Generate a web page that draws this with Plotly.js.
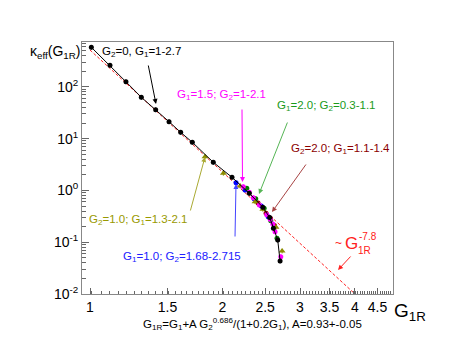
<!DOCTYPE html>
<html><head><meta charset="utf-8">
<script src="https://cdn.plot.ly/plotly-3.0.1.min.js"></script>
<style>html,body{margin:0;padding:0;background:#fff;}#chart{width:457px;height:353px;}</style>
</head><body><div id="chart"></div>
<script>
// ---- data ----
const blackG = [1.007,1.110,1.207,1.308,1.410,1.512,1.607,1.708,1.906,2.102,2.301,2.470,2.560,2.610,2.670,2.703];
const blackK = [579,260,125,62.7,36.1,21.2,13.2,8.48,3.49,1.79,0.879,0.472,0.300,0.185,0.110,0.0434];
const magentaG = [2.230,2.301,2.350,2.425,2.521,2.566,2.602,2.633,2.713];
const magentaK = [1.18,0.919,0.723,0.523,0.340,0.277,0.225,0.160,0.0525];
const greenG = [2.271,2.380,2.487,2.575,2.660];
const greenK = [1.10,0.690,0.451,0.260,0.119];
const darkredG = [2.409,2.512,2.570,2.625];
const darkredK = [0.571,0.361,0.290,0.210];
const oliveG = [1.825,2.009,2.193,2.371,2.470,2.647,2.732];
const oliveK = [4.47,2.14,1.22,0.605,0.432,0.194,0.0676];
const blueG = [2.147,2.250,2.360,2.450,2.540];
const blueK = [1.41,1.02,0.69,0.50,0.31];
const fitG = [1.0, 4.0];
const fitK = [513, 0.01];
const xTicks = [1,1.5,2,2.5,3,3.5,4,4.5];
const xTickText = ['1','1.5','2','2.5','3','3.5','4','4.5'];
const yTicks = [0.01,0.1,1,10,100];
const yTickText = ['10<sup>-2</sup>','10<sup>-1</sup>','10<sup>0</sup>','10<sup>1</sup>','10<sup>2</sup>'];

// ---- styling helpers ----
const FONT = 'Liberation Sans, Arial, Helvetica, sans-serif';
const L = 82, R = 393, T = 42, B = 294;
function px(x){ return (x - L) / (R - L); }
function py(y){ return (B - y) / (B - T); }

const xMinor = [];
for (let i = 96; i <= 485; i += 5) { const v = i/100; if (Math.abs(v*2 - Math.round(v*2)) > 1e-6) xMinor.push(v); }
const yMinor = [];
for (let d = -2; d <= 2; d++) for (let m = 2; m <= 9; m++) { const v = m*Math.pow(10,d); if (v < 740) yMinor.push(v); }

function pts(G, K, color, symbol, size, line){
  return {x:G, y:K, type:'scatter', mode: line ? 'lines+markers' : 'markers',
    marker:{color:color, symbol:symbol, size:size, line:{width:0}},
    line: line ? {color:color, width:1} : undefined,
    error_y:{type:'percent', value:10, color:color, thickness:1, width:0},
    showlegend:false, hoverinfo:'skip', cliponaxis:true};
}

const traces = [
  {x:fitG, y:fitK, type:'scatter', mode:'lines', line:{color:'#ff2020', width:1, dash:'3px,2px'}, showlegend:false},
  pts(blueG, blueK, '#0000ff', 'circle', 5),
  pts(darkredG, darkredK, '#990000', 'circle', 5),
  pts(greenG, greenK, '#007a00', 'circle', 5),
  pts(oliveG, oliveK, '#8c8c00', 'triangle-up', 6),
  pts(magentaG, magentaK, '#ff00ff', 'circle', 5),
  pts(blackG, blackK, '#000000', 'circle', 5, true)
];

function txt(x, y, t, color, size, xa){
  return {xref:'paper', yref:'paper', x:px(x), y:py(y), text:t, showarrow:false,
    xanchor: xa || 'center', yanchor:'middle', font:{family:FONT, size:size, color:color}};
}
function arr(hx, hy, tx, ty, color){
  return {xref:'paper', yref:'paper', x:px(hx), y:py(hy), ax:tx-hx, ay:ty-hy, text:'',
    showarrow:true, arrowhead:2, arrowsize:1, arrowwidth:1, arrowcolor:color, standoff:0, startstandoff:0};
}

const annotations = [
  txt(55, 52, '\u03ba<sub>eff</sub>(G<sub>1R</sub>)', '#000', 14),
  txt(141, 52, 'G<sub>2</sub>=0, G<sub>1</sub>=1-2.7', '#000', 11.5),
  arr(156, 104, 148, 64, '#000'),
  txt(221.5, 95, 'G<sub>1</sub>=1.5; G<sub>2</sub>=1-2.1', '#ff00ff', 11.5),
  arr(242.5, 182, 242, 108, '#ff00ff'),
  txt(326, 106, 'G<sub>1</sub>=2.0; G<sub>2</sub>=0.3-1.1', '#1a9a1a', 11.5),
  arr(259, 194, 288, 121, '#55b555'),
  txt(340, 149, 'G<sub>2</sub>=2.0; G<sub>1</sub>=1.1-1.4', '#8b0000', 11.5),
  arr(272, 212, 307, 163, '#a84444'),
  txt(138.7, 220, 'G<sub>2</sub>=1.0; G<sub>1</sub>=1.3-2.1', '#999900', 11.5),
  arr(205, 157, 190, 212, '#aaaa33'),
  txt(181.5, 257, 'G<sub>1</sub>=1.0; G<sub>2</sub>=1.68-2.715', '#2020ff', 11.5),
  arr(236, 184, 235, 238, '#4444ff'),
  txt(338, 243, '~', '#ff2020', 12),
  txt(351, 243, 'G', '#ff2020', 17),
  txt(357, 236, '-7.8', '#ff2020', 10, 'left'),
  txt(356, 251, '1R', '#ff2020', 10, 'left'),
  arr(338, 270, 352, 255, '#ff2020'),
  txt(392, 312, 'G<sub>1R</sub>', '#000', 19, 'left'),
  txt(252, 324, 'G<sub>1R</sub>=G<sub>1</sub>+A G<sub>2</sub><sup>0.686</sup>/(1+0.2G<sub>1</sub>), A=0.93+-0.05', '#000', 11.5)
];

const layout = {
  width:457, height:353,
  margin:{l:L, r:457-R, t:T, b:353-B, pad:0},
  paper_bgcolor:'#fff', plot_bgcolor:'#fff',
  font:{family:FONT, size:13, color:'#000'},
  showlegend:false,
  xaxis:{type:'log', range:[Math.log10(0.959), Math.log10(4.88)], tickmode:'array', tickvals:xTicks, ticktext:xTickText,
    ticks:'inside', ticklen:6, tickcolor:'#666', showline:true, linecolor:'#888', linewidth:1, mirror:true,
    showgrid:false, zeroline:false, tickfont:{family:FONT, size:14},
    minor:{tickmode:'array', tickvals:xMinor, ticks:'inside', ticklen:3, tickcolor:'#666', showgrid:false}},
  yaxis:{type:'log', range:[-2, 2.865], tickmode:'array', tickvals:yTicks, ticktext:yTickText,
    ticks:'inside', ticklen:7, tickcolor:'#666', showline:true, linecolor:'#888', linewidth:1, mirror:true,
    showgrid:false, zeroline:false, tickfont:{family:FONT, size:14},
    minor:{tickmode:'array', tickvals:yMinor, ticks:'inside', ticklen:4, tickcolor:'#666', showgrid:false}},
  annotations:annotations
};

Plotly.newPlot('chart', traces, layout, {staticPlot:true, displayModeBar:false});
</script></body></html>
